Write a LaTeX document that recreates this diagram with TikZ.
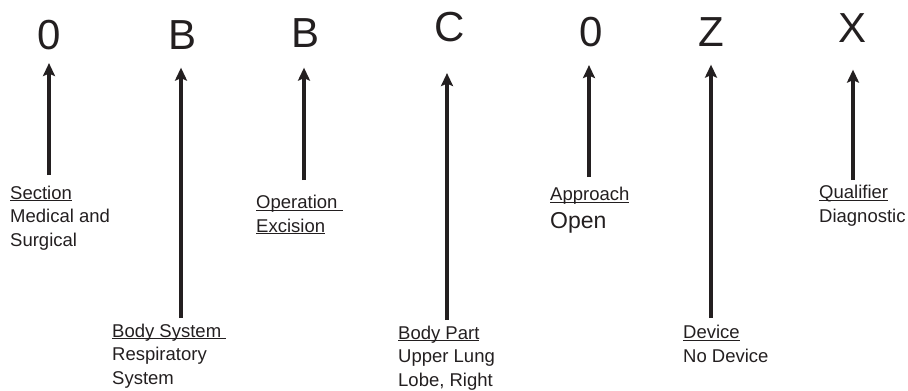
\documentclass[tikz,border=0pt]{standalone}
\usepackage{fontspec}
\setmainfont{Liberation Sans}
\usetikzlibrary{arrows.meta,positioning}
\definecolor{ink}{HTML}{231F20}
\newcommand{\lblu}[1]{\underline{\smash{#1}}}
\tikzset{code/.style={inner sep=0pt,text=ink,font=\fontsize{42}{42}\selectfont},
  lbl/.style={anchor=base west,align=left,inner sep=0pt,text=ink,font=\fontsize{18.5}{23.5}\selectfont},
  arr/.style={-{Stealth[length=13pt,width=12pt,inset=2.5pt]},line width=3.6pt,draw=ink}}
\begin{document}
\begin{tikzpicture}[x=1pt,y=-1pt]
\useasboundingbox (0,0) rectangle (908,391);
\node[code] (l1) at (49,35){0}; \node[code] (l2) at (183,35){B}; \node[code] (l3) at (306,33){B};
\node[code] (l4) at (450,27){C}; \node[code] (l5) at (591,32){0}; \node[code] (l6) at (711,32){Z};
\node[code] (l7) at (852,28){X};
\coordinate (a1) at (49,175); \coordinate (a2) at (181,318); \coordinate (a3) at (304,180);
\coordinate (a4) at (447,320); \coordinate (a5) at (589,177); \coordinate (a6) at (711,318);
\coordinate (a7) at (853,180);
% labels: base = baseline of the last line
\node[lbl] (s1) at (10,246){\lblu{Section}\\Medical and\\Surgical};
\node[lbl] (s2) at (112,384){\lblu{Body System\ }\\Respiratory\\System};
\node[lbl] (s3) at (256,232){\lblu{Operation\ }\\\lblu{Excision}};
\node[lbl] (s4) at (398,386){\lblu{Body Part}\\Upper Lung\\Lobe, Right};
\node[lbl] (s5) at (550,228){\lblu{Approach}\\[4pt]{\fontsize{23}{23}\selectfont Open}};
\node[lbl] (s6) at (683,362){\lblu{Device}\\No Device};
\node[lbl] (s7) at (819,222){\lblu{Qualifier}\\Diagnostic};
\draw[arr,shorten >=13pt] (a1)--(a1|-l1.south); \draw[arr,shorten >=18pt] (a2)--(a2|-l2.south);
\draw[arr,shorten >=20pt] (a3)--(a3|-l3.south); \draw[arr,shorten >=31pt] (a4)--(a4|-l4.south);
\draw[arr,shorten >=18pt] (a5)--(a5|-l5.south); \draw[arr,shorten >=18pt] (a6)--(a6|-l6.south);
\draw[arr,shorten >=27pt] (a7)--(a7|-l7.south);
\end{tikzpicture}
\end{document}
